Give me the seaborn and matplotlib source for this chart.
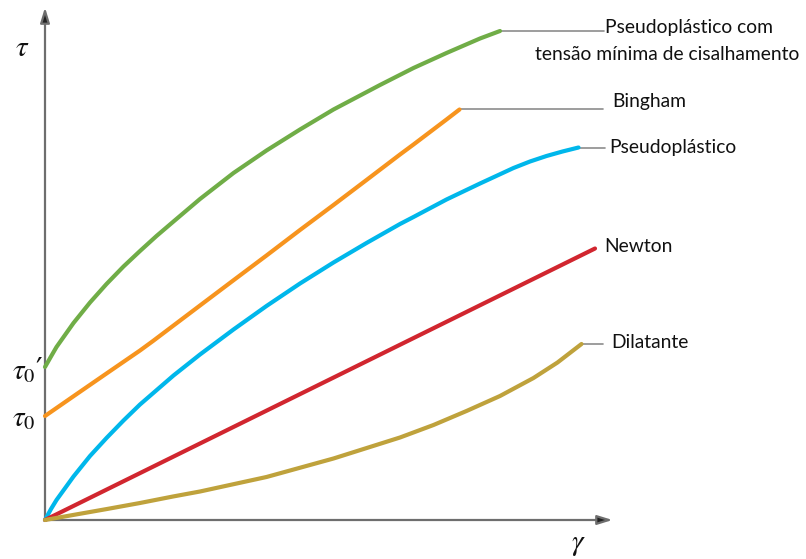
import matplotlib
matplotlib.use("Agg")
import matplotlib.pyplot as plt
import seaborn as sns
import pandas as pd

# Shear rate (gamma) and shear stress (tau) for each fluid model
models = [
    "Pseudoplástico com tensão mínima de cisalhamento",
    "Bingham",
    "Pseudoplástico",
    "Newton",
    "Dilatante",
]

gamma_pseudo_yield = [0, 0.12, 0.23, 0.57, 0.9, 1.23, 1.57, 1.9, 2.23, 2.57, 3.1, 3.77,
                      4.43, 5.1, 5.77, 6.7, 7.37, 8.03, 8.7, 9.1]
tau_pseudo_yield = [3.06, 3.27, 3.46, 3.94, 4.35, 4.72, 5.07, 5.38, 5.68, 5.97, 6.42, 6.94,
                    7.39, 7.81, 8.21, 8.70, 9.04, 9.34, 9.63, 9.78]

gamma_bingham = [0, 0.57, 1.23, 1.9, 2.16, 3.1, 3.77, 4.43, 5.1, 5.77, 6.43,
                 7.1, 7.37, 8.03, 8.29]
tau_bingham = [2.08, 2.475, 2.93, 3.39, 3.58, 4.29, 4.795, 5.29, 5.80, 6.30, 6.80,
               7.31, 7.51, 8.01, 8.21]

gamma_pseudo = [0, 0.12, 0.23, 0.57, 0.9, 1.23, 1.57, 1.9, 2.57, 3.1, 3.77, 4.43,
                5.1, 5.77, 6.43, 7.1, 7.37, 8.03, 8.7, 9.37, 9.7, 10.03, 10.35, 10.67]
tau_pseudo = [0, 0.22, 0.40, 0.87, 1.28, 1.64, 1.99, 2.31, 2.89, 3.31, 3.81, 4.28,
              4.73, 5.15, 5.54, 5.92, 6.06, 6.41, 6.73, 7.04, 7.17, 7.28, 7.37, 7.45]

gamma_newton = [0, 11.0]
tau_newton = [0, 5.43]

gamma_dilatant = [0, 0.56, 1.24, 1.9, 2.56, 3.1, 4.43, 5.77, 7.1, 7.77, 8.43, 9.1,
                  9.77, 10.25, 10.73]
tau_dilatant = [0, 0.10, 0.22, 0.34, 0.47, 0.57, 0.86, 1.23, 1.65, 1.90, 2.18, 2.48,
                2.84, 3.15, 3.52]

colors = ["#70AD47", "#F7941E", "#00B7EB", "#D1262F", "#BFA23C"]

series = [
    (gamma_pseudo_yield, tau_pseudo_yield),
    (gamma_bingham, tau_bingham),
    (gamma_pseudo, tau_pseudo),
    (gamma_newton, tau_newton),
    (gamma_dilatant, tau_dilatant),
]

frames = []
for name, (g, t) in zip(models, series):
    frames.append(pd.DataFrame({"gamma": g, "tau": t, "modelo": name}))
df = pd.concat(frames, ignore_index=True)

sns.set_style("white")
plt.rcParams["font.family"] = ["Lato", "DejaVu Sans"]
plt.rcParams["mathtext.fontset"] = "stix"

fig = plt.figure(figsize=(8.06, 5.59), dpi=100)
ax = fig.add_axes([0, 0, 1, 1])

# Axes with arrow heads
axis_color = "#6E6E6E"
arrow_style = "-|>,head_length=0.9,head_width=0.28"
ax.annotate("", xy=(0, 10.25), xytext=(0, 0),
            arrowprops=dict(arrowstyle=arrow_style, lw=1.6, shrinkA=0, shrinkB=0,
                            fc="#222222", ec=axis_color))
ax.annotate("", xy=(11.35, 0), xytext=(0, 0),
            arrowprops=dict(arrowstyle=arrow_style, lw=1.6, shrinkA=0, shrinkB=0,
                            fc="#222222", ec=axis_color))

sns.lineplot(data=df, x="gamma", y="tau", hue="modelo", hue_order=models,
             palette=colors, sort=False, estimator=None, linewidth=3.0,
             legend=False, ax=ax, zorder=3)
for line in ax.get_lines():
    line.set_solid_joinstyle("round")

# Leader lines from curve ends to their labels
leader_color = "#8C8C8C"
leader_ends = {0: 11.18, 1: 11.16, 2: 11.2, 4: 11.16}
for i, x_end in leader_ends.items():
    g, t = series[i]
    ax.plot([g[-1], x_end], [t[-1], t[-1]], color=leader_color, lw=1.2, zorder=2)

label_kw = dict(fontsize=13.9, color="#111111", va="center", ha="left")
ax.text(11.2, 9.84, "Pseudoplástico com", **label_kw)
ax.text(9.8, 9.3, "tensão mínima de cisalhamento", **label_kw)
ax.text(11.34, 8.36, "Bingham", **label_kw)
ax.text(11.28, 7.46, "Pseudoplástico", **label_kw)
ax.text(11.18, 5.46, "Newton", **label_kw)
ax.text(11.32, 3.54, "Dilatante", **label_kw)

greek_kw = dict(fontsize=21, color="#111111", va="center", ha="center")
ax.text(-0.46, 9.44, r"$\tau$", **greek_kw)
ax.text(-0.34, 3.0, r"$\tau_{0}$′", family=["DejaVu Serif"], **greek_kw)
ax.text(-0.42, 2.02, r"$\tau_{0}$", **greek_kw)
ax.text(10.66, -0.5, r"$\gamma$", **greek_kw)

ax.set_xlim(-0.9, 15.22)
ax.set_ylim(-0.78, 10.4)
ax.axis("off")

fig.savefig("out.png", dpi=100)
